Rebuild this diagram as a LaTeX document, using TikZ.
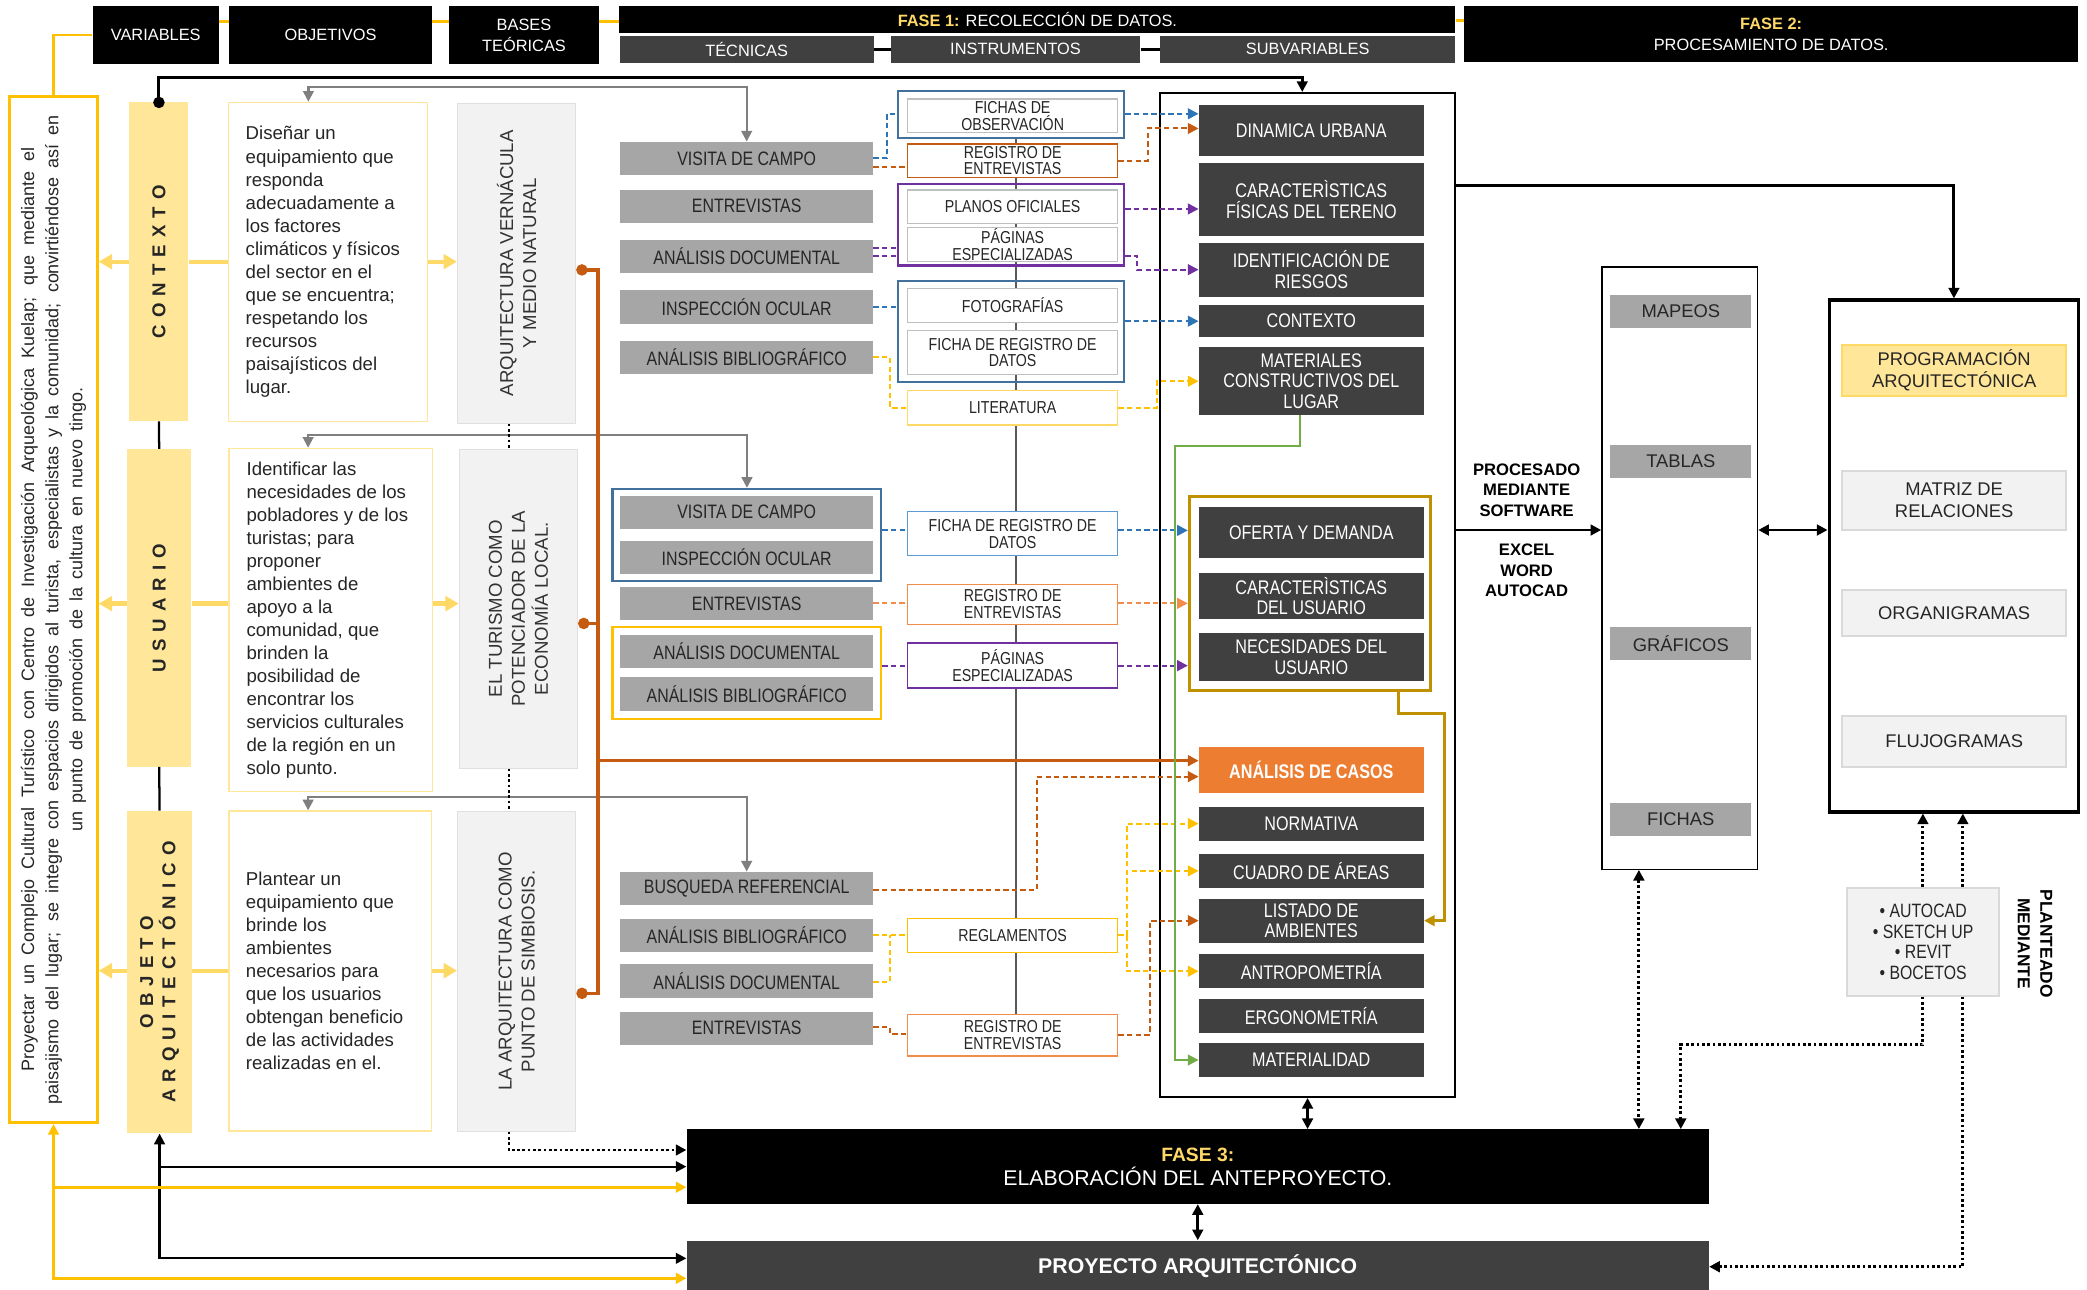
\documentclass[tikz,border=0pt]{standalone}
\usepackage{fontspec}
\setmainfont{Liberation Sans}
\newfontfamily\narrowfont{Liberation Sans}[FakeStretch=0.82]
\usetikzlibrary{arrows.meta,backgrounds}

\definecolor{hdark}{HTML}{404040}
\definecolor{tecgray}{HTML}{A6A6A6}
\definecolor{palegray}{HTML}{F2F2F2}
\definecolor{edgegray}{HTML}{D9D9D9}
\definecolor{varfill}{HTML}{FFE699}
\definecolor{varedge}{HTML}{FFD966}
\definecolor{gold}{HTML}{FFC000}
\definecolor{ochre}{HTML}{BF9000}
\definecolor{rust}{HTML}{C55A11}
\definecolor{peach}{HTML}{F28C4B}
\definecolor{casos}{HTML}{ED7D31}
\definecolor{steel}{HTML}{41719C}
\definecolor{skyblue}{HTML}{2E75B6}
\definecolor{lightblue}{HTML}{5B9BD5}
\definecolor{plum}{HTML}{7030A0}
\definecolor{leaf}{HTML}{70AD47}
\definecolor{midgray}{HTML}{7F7F7F}

\newcommand\fsz[2]{\fontsize{#1}{#2}\selectfont}
\newcommand\widespaces{\spaceskip=5.3pt\relax}

\tikzset{
  tri/.tip={Triangle[length=8pt,width=8pt]},
  bigtri/.tip={Triangle[length=10pt,width=11pt]},
  blob/.tip={Circle[length=8.5pt]},
  % boxes
  hdrbox/.style={fill=black,text=white,inner sep=0pt,align=center,font=\fsz{12.3}{15.8}},
  subhdr/.style={hdrbox,fill=hdark},
  genbox/.style={draw=gold,line width=2pt,fill=white,inner sep=0pt},
  gentxt/.style={rotate=90,align=center,inner sep=0pt,text=black!85,font=\fsz{13.5}{18.2}},
  varbox/.style={fill=varfill,inner sep=0pt},
  vlab/.style={rotate=90,align=center,inner sep=0pt,text=black!85,font=\bfseries\fsz{14}{16.8}\widespaces},
  objbox/.style={draw=varfill,line width=0.9pt,fill=white,inner sep=0pt},
  objtxt/.style={anchor=west,align=left,inner sep=0pt,text=black!85,font=\fsz{14}{17.3}},
  basebox/.style={draw=black!12,line width=0.7pt,fill=palegray,inner sep=0pt},
  basetxt/.style={rotate=90,align=center,inner sep=0pt,text=black!80,font=\fsz{14}{17.3}},
  tecbox/.style={fill=tecgray,text=black!85,inner sep=0pt,minimum width=190pt,minimum height=25pt,font=\narrowfont\fsz{14.6}{15}},
  insbox/.style={draw=#1,line width=1pt,fill=white,inner sep=0pt,minimum width=158pt,align=center,text=black!85,font=\narrowfont\fsz{13}{12.5}},
  insbox/.default={black!25},
  grpbox/.style={draw=#1,line width=1.6pt,inner sep=0pt,minimum width=170pt},
  subbox/.style={fill=hdark,text=white,inner sep=0pt,minimum width=169pt,align=center,font=\narrowfont\fsz{14.8}{15.5}},
  outbox/.style={fill=tecgray,text=black!85,inner sep=0pt,minimum width=106pt,minimum height=25pt,font=\fsz{13.8}{16}},
  progbox/.style={draw=edgegray,line width=1.5pt,fill=palegray,text=black!85,inner sep=0pt,minimum width=168pt,align=center,font=\fsz{13.8}{16.5}},
  swbox/.style={draw=edgegray,line width=1.5pt,fill=palegray,text=black!85,inner sep=0pt,align=center,font=\narrowfont\fsz{14.5}{15.5}},
  proclab/.style={align=center,inner sep=0pt,font=\bfseries\fsz{12.5}{15.4}},
  % lines
  blkline/.style={draw=black,line width=2.2pt},
  thinblk/.style={draw=black,line width=1.7pt},
  dashc/.style={draw=#1,line width=1.5pt,dash pattern=on 4pt off 2.5pt},
  dotline/.style={draw=black,line width=2.2pt,dash pattern=on 2pt off 2pt},
  grayline/.style={draw=midgray,line width=1.7pt},
  rustline/.style={draw=rust,line width=2.5pt},
  leafline/.style={draw=leaf,line width=1.4pt},
  ochreline/.style={draw=ochre,line width=2.4pt},
  goldline/.style={draw=gold,line width=2pt},
  varline/.style={draw=varedge,line width=3.2pt},
  instline/.style={draw=black!65,line width=1pt}
}

\begin{document}
\begin{tikzpicture}[x=1pt,y=-1pt]
\useasboundingbox (0,0) rectangle (1568,969);

% header row
\node[hdrbox,minimum width=95pt,minimum height=44pt] (hv) at (117,26.4) {VARIABLES};
\node[hdrbox,minimum width=152.5pt,minimum height=44pt] (ho) at (248.3,26.4) {OBJETIVOS};
\node[hdrbox,minimum width=113pt,minimum height=44pt] (hb) at (393.7,26.4) {BASES\\TEÓRICAS};
\node[hdrbox,minimum width=628pt,minimum height=20.5pt] (hf1) at (779.4,14.8) {\textbf{\color{varedge}FASE 1:} RECOLECCIÓN DE DATOS.};
\node[subhdr,minimum width=191pt,minimum height=20pt] (htec) at (561,37) {TÉCNICAS};
\node[subhdr,minimum width=187.4pt,minimum height=20pt] (hins) at (763,37) {INSTRUMENTOS};
\node[subhdr,minimum width=221.7pt,minimum height=20pt] (hsub) at (982.5,37) {SUBVARIABLES};
\node[hdrbox,minimum width=461.5pt,minimum height=42.3pt] (hf2) at (1330.7,25.7) {\textbf{\color{varedge}FASE 2:}\\PROCESAMIENTO DE DATOS.};

% general objective
\node[genbox,minimum width=66pt,minimum height=771pt] (gen) at (40.2,458) {};
\node[gentxt] (gent) at (gen) {\makebox[694pt][s]{Proyectar un Complejo Cultural Turístico con Centro de Investigación Arqueológica Kuelap; que mediante el}\\
  \makebox[743pt][s]{paisajismo del lugar; se integre con espacios dirigidos al turista, especialistas y la comunidad; convirtiéndose así en}\\
  \makebox[334pt][s]{un punto de promoción de la cultura en nuevo tingo.}};

% variables
\node[varbox,minimum width=44.3pt,minimum height=239.4pt] (vc) at (119.4,196.6) {};
\node[vlab] (vct) at (vc) {C O N T E X T O};
\node[varbox,minimum width=48.3pt,minimum height=238.6pt] (vu) at (119.6,456.7) {};
\node[vlab] (vut) at (vu) {U S U A R I O};
\node[varbox,minimum width=48.6pt,minimum height=242.2pt] (vo) at (119.9,730.4) {};
\node[vlab] (vot) at (vo) {O B J E T O\\A R Q U I T E C T Ó N I C O};

% objectives
\node[objbox,minimum width=149.5pt,minimum height=239.7pt] (o1) at (246.7,196.7) {};
\node[objtxt] (o1t) at ([xshift=12.9pt]o1.west) {Diseñar un\\equipamiento que\\responda\\adecuadamente a\\los factores\\climáticos y físicos\\del sector en el\\que se encuentra;\\respetando los\\recursos\\paisajísticos del\\lugar.};
\node[objbox,minimum width=153pt,minimum height=258pt] (o2) at (248.5,465.8) {};
\node[objtxt] (o2t) at ([xshift=13.5pt]o2.west) {Identificar las\\necesidades de los\\pobladores y de los\\turistas; para\\proponer\\ambientes de\\apoyo a la\\comunidad, que\\brinden la\\posibilidad de\\encontrar los\\servicios culturales\\de la región en un\\solo punto.};
\node[objbox,minimum width=152pt,minimum height=240.5pt] (o3) at (248,729.5) {};
\node[objtxt] (o3t) at ([xshift=13pt]o3.west) {Plantear un\\equipamiento que\\brinde los\\ambientes\\necesarios para\\que los usuarios\\obtengan beneficio\\de las actividades\\realizadas en el.};

% bases teoricas
\node[basebox,minimum width=89pt,minimum height=240.4pt] (b1) at (388.1,197.8) {};
\node[basetxt] (b1t) at (b1) {ARQUITECTURA VERNÁCULA\\Y MEDIO NATURAL};
\node[basebox,minimum width=89pt,minimum height=239.7pt] (b2) at (389.5,457.4) {};
\node[basetxt] (b2t) at (b2) {EL TURISMO COMO\\POTENCIADOR DE LA\\ECONOMÍA LOCAL.};
\node[basebox,minimum width=89pt,minimum height=240pt] (b3) at (388.2,729.8) {};
\node[basetxt] (b3t) at (b3) {LA ARQUITECTURA COMO\\PUNTO DE SIMBIOSIS.};

% tecnicas
\node[tecbox] (t1a) at (561,119) {VISITA DE CAMPO};
\node[tecbox] (t1b) at (561,155) {ENTREVISTAS};
\node[tecbox] (t1c) at (561,192.6) {ANÁLISIS DOCUMENTAL};
\node[tecbox] (t1d) at (561,230.6) {INSPECCIÓN OCULAR};
\node[tecbox] (t1e) at (561,268.5) {ANÁLISIS BIBLIOGRÁFICO};
\node[grpbox=steel,minimum width=202pt,minimum height=69pt] (gb2) at (561.2,401.8) {};
\node[tecbox] (t2a) at (561,384.8) {VISITA DE CAMPO};
\node[tecbox] (t2b) at (561,418.7) {INSPECCIÓN OCULAR};
\node[tecbox] (t2c) at (561,453.5) {ENTREVISTAS};
\node[grpbox=gold,minimum width=202pt,minimum height=69pt] (gy) at (561.2,505.8) {};
\node[tecbox] (t2d) at (561,489.4) {ANÁLISIS DOCUMENTAL};
\node[tecbox] (t2e) at (561,521.4) {ANÁLISIS BIBLIOGRÁFICO};
\node[tecbox] (t3a) at (561,667.5) {BUSQUEDA REFERENCIAL};
\node[tecbox] (t3b) at (561,702.8) {ANÁLISIS BIBLIOGRÁFICO};
\node[tecbox] (t3c) at (561,737) {ANÁLISIS DOCUMENTAL};
\node[tecbox] (t3d) at (561,772.5) {ENTREVISTAS};

% instrumentos
\node[grpbox=steel,minimum height=35pt] (gf) at (759.6,86) {};
\node[insbox,minimum height=25pt] (i1) at (760.8,87) {FICHAS DE\\OBSERVACIÓN};
\node[insbox=rust,minimum height=25pt] (r1) at (760.8,120.7) {REGISTRO DE\\ENTREVISTAS};
\node[grpbox=plum,minimum height=61pt] (gp) at (759.6,169) {};
\node[insbox,minimum height=25pt] (i2) at (760.8,155.3) {PLANOS OFICIALES};
\node[insbox,minimum height=25.6pt] (i3) at (760.8,183.8) {PÁGINAS\\ESPECIALIZADAS};
\node[grpbox=steel,minimum height=76pt] (gb) at (759.6,249) {};
\node[insbox,minimum height=25.8pt] (i4) at (760.8,229.5) {FOTOGRAFÍAS};
\node[insbox,minimum height=32.8pt] (i5) at (760.8,264.8) {FICHA DE REGISTRO DE\\DATOS};
\node[insbox=varedge,minimum height=25.8pt] (lit) at (760.8,306.4) {LITERATURA};
\node[insbox=lightblue,minimum height=33pt] (fr2) at (760.8,401) {FICHA DE REGISTRO DE\\DATOS};
\node[insbox=peach,minimum height=30pt] (r2) at (760.8,454) {REGISTRO DE\\ENTREVISTAS};
\node[insbox=plum,minimum height=34pt] (pa2) at (760.8,500) {PÁGINAS\\ESPECIALIZADAS};
\node[insbox=gold,minimum height=25.5pt] (reg) at (760.8,702.8) {REGLAMENTOS};
\node[insbox=peach,minimum height=31.4pt] (r3) at (760.8,777.7) {REGISTRO DE\\ENTREVISTAS};

% subvariables
\node[draw=black,line width=1.8pt,fill=white,minimum width=221.5pt,minimum height=754pt,inner sep=0pt] (sv) at (982.4,447) {};
\node[subbox,minimum height=38.3pt] (s1) at (985.2,98) {DINAMICA URBANA};
\node[subbox,minimum height=54.6pt] (s2) at (985.2,150) {CARACTERÌSTICAS\\FÍSICAS DEL TERENO};
\node[subbox,minimum height=40.6pt] (s3) at (985.2,202.6) {IDENTIFICACIÓN DE\\RIESGOS};
\node[subbox,minimum height=24.2pt] (s4) at (985.2,241.3) {CONTEXTO};
\node[subbox,minimum height=50.8pt] (s5) at (985.2,286.4) {MATERIALES\\CONSTRUCTIVOS DEL\\LUGAR};
\node[draw=ochre,line width=2.2pt,minimum width=181pt,minimum height=146pt,inner sep=0pt] (gg) at (984,445.8) {};
\node[subbox,minimum height=38.8pt] (s6) at (985.2,400) {OFERTA Y DEMANDA};
\node[subbox,minimum height=35pt] (s7) at (985.2,447.8) {CARACTERÌSTICAS\\DEL USUARIO};
\node[subbox,minimum height=35.6pt] (s8) at (985.2,493.6) {NECESIDADES DEL\\USUARIO};
\node[subbox,fill=casos,font=\narrowfont\bfseries\fsz{14.8}{15.5},minimum height=35pt] (scas) at (985.2,578.5) {ANÁLISIS DE CASOS};
\node[subbox,minimum height=25.6pt] (snorm) at (985.2,618.8) {NORMATIVA};
\node[subbox,minimum height=26pt] (scuad) at (985.2,654.3) {CUADRO DE ÁREAS};
\node[subbox,minimum height=33pt] (slist) at (985.2,691.7) {LISTADO DE\\AMBIENTES};
\node[subbox,minimum height=25.7pt] (santro) at (985.2,729.7) {ANTROPOMETRÍA};
\node[subbox,minimum height=25.7pt] (sergo) at (985.2,763.4) {ERGONOMETRÍA};
\node[subbox,minimum height=26pt] (smat) at (985.2,796.4) {MATERIALIDAD};

% fase 2 outputs
\node[draw=black,line width=1pt,fill=white,minimum width=117pt,minimum height=452.5pt,inner sep=0pt] (mb) at (1262,426.8) {};
\node[outbox] (m1) at (1262.8,233.8) {MAPEOS};
\node[outbox] (m2) at (1262.8,346.5) {TABLAS};
\node[outbox] (m3) at (1262.8,483.6) {GRÁFICOS};
\node[outbox] (m4) at (1262.8,615.6) {FICHAS};
\node[draw=black,line width=2.4pt,fill=white,minimum width=187.5pt,minimum height=384.6pt,inner sep=0pt] (rb) at (1468,417.7) {};
\node[progbox,fill=varfill,draw=varedge,minimum height=38pt] (p1) at (1468.2,278.4) {PROGRAMACIÓN\\ARQUITECTÓNICA};
\node[progbox,minimum height=44pt] (p2) at (1468.2,376.2) {MATRIZ DE\\RELACIONES};
\node[progbox,minimum height=34.5pt] (p3) at (1468.2,460.7) {ORGANIGRAMAS};
\node[progbox,minimum height=38.6pt] (p4) at (1468.2,557) {FLUJOGRAMAS};
\node[proclab] (proc) at (1147,368) {PROCESADO\\MEDIANTE\\SOFTWARE};
\node[proclab] (soft) at (1147,428.6) {EXCEL\\WORD\\AUTOCAD};
\node[swbox,minimum width=114pt,minimum height=81pt] (sw) at (1444.9,707.6) {• AUTOCAD\\• SKETCH UP\\• REVIT\\• BOCETOS};
\node[proclab,rotate=-90,font=\bfseries\fsz{13}{17}] (plan) at (1529,709) {PLANTEADO\\MEDIANTE};

% fase 3 and project
\node[hdrbox,minimum width=768pt,minimum height=56pt,font=\fsz{16}{18.3}] (f3) at (899.9,876.5) {{\bfseries\color{varedge}\fsz{14.5}{18.3}FASE 3:}\\ELABORACIÓN DEL ANTEPROYECTO.};
\node[hdrbox,fill=hdark,minimum width=768pt,minimum height=38pt,font=\bfseries\fsz{16}{19}] (pa) at (899.9,951) {PROYECTO ARQUITECTÓNICO};

\begin{pgfonlayer}{background}
  \fill[white] (0,0) rectangle (1568,969);
  \draw[instline] (gf.south -| 763.4,0) -- (r3.north -| 763.4,0);
\end{pgfonlayer}

% header links
\draw[goldline] (hv.east |- 0,16.3) -- (ho.west |- 0,16.3);
\draw[goldline] (ho.east |- 0,16.3) -- (hb.west |- 0,16.3);
\draw[goldline] (hb.east |- 0,16.3) -- (hf1.west |- 0,16.3);
\draw[goldline] (hf1.east |- 0,15.5) -- (hf2.west |- 0,15.5);
\draw[blkline] (htec.east) -- (hins.west);
\draw[blkline] (hins.east) -- (hsub.west);
\draw[goldline] (gen.north) |- (hv.west);

% variables column
\draw[blkline,blob-tri] ([yshift=-4.5pt]vc.north) -- (vc.north |- 0,58.1) -| ([xshift=-4pt]sv.north);
\draw[thinblk] (vc.south) -- (vu.north);
\draw[thinblk] (vu.south) -- (vo.north);
\draw[varline,-bigtri] (vc.west) -- (vc.west -| gen.east);
\draw[varline] (vc.east) -- (vc.east -| o1.west);
\draw[varline,-bigtri] (o1.east |- vc.east) -- (b1.west |- vc.east);
\draw[varline,-bigtri] (vu.west |- 0,453.5) -- (gen.east |- 0,453.5);
\draw[varline] (vu.east |- 0,453.5) -- (o2.west |- 0,453.5);
\draw[varline,-bigtri] (o2.east |- 0,453.5) -- (b2.west |- 0,453.5);
\draw[varline,-bigtri] (vo.west |- 0,729.3) -- (gen.east |- 0,729.3);
\draw[varline] (vo.east |- 0,729.3) -- (o3.west |- 0,729.3);
\draw[varline,-bigtri] (o3.east |- 0,729.3) -- (b3.west |- 0,729.3);

% gray links to techniques
\draw[grayline,tri-tri] ([xshift=-15pt]o1.north) |- (t1a.north |- 0,65.6) -- (t1a.north);
\draw[grayline,tri-tri] ([xshift=-17pt]o2.north) |- (gb2.north |- 0,326.8) -- (gb2.north);
\draw[grayline,tri-tri] ([xshift=-16.5pt]o3.north) |- (t3a.north |- 0,599) -- (t3a.north);

% dotted bases
\draw[dotline] (b1.south -| 382.4,0) -- (b2.north -| 382.4,0);
\draw[dotline] (b2.south -| 382.4,0) -- (b3.north -| 382.4,0);
\draw[dotline,-tri] (b3.south -| 382.4,0) |- (f3.west |- 0,864);

% bases to casos
\coordinate (oj) at (449.4,571.5);
\draw[rustline,blob-] ([yshift=-5pt]b1.east) -| (oj);
\draw[rustline,blob-] ([yshift=-11pt]b2.east) -| (oj);
\draw[rustline,blob-] ([yshift=-16.5pt]b3.east) -| (oj);
\draw[rustline,-tri] (oj) -- (oj -| scas.west);

% group 1 dashed links
\draw[dashc=skyblue] (t1a.east |- 0,119) -- ++(10,0) |- (gf.west);
\draw[dashc=rust] (t1a.east |- 0,125.7) -- (r1.west |- 0,125.7);
\draw[dashc=rust,-tri] (r1.east) -- ++(22,0) |- (s1.west |- 0,96.5);
\draw[dashc=skyblue,-tri] (gf.east |- 0,85.5) -- (s1.west |- 0,85.5);
\draw[dashc=plum] (t1c.east |- 0,186.6) -- (gp.west |- 0,186.6);
\draw[dashc=plum] (t1c.east |- 0,192.1) -- (gp.west |- 0,192.1);
\draw[dashc=plum,-tri] (gp.east |- 0,157) -- (s2.west |- 0,157);
\draw[dashc=plum,-tri] (gp.east |- 0,192) -- ++(9,0) |- (s3.west);
\draw[dashc=skyblue] (t1d.east |- 0,230.9) -- (gb.west |- 0,230.9);
\draw[dashc=skyblue,-tri] (gb.east |- s4.west) -- (s4.west);
\draw[dashc=gold] (t1e.east) -- ++(12.5,0) |- (lit.west);
\draw[dashc=gold,-tri] (lit.east) -- ++(29,0) |- (s5.west);

% group 2 dashed links
\draw[dashc=skyblue] (gb2.east |- 0,398.2) -- (fr2.west |- 0,398.2);
\draw[dashc=skyblue,-tri] (fr2.east |- 0,398.5) -- (gg.west |- 0,398.5);
\draw[dashc=peach] (t2c.east |- 0,453.3) -- (r2.west |- 0,453.3);
\draw[dashc=peach,-tri] (r2.east |- 0,453.3) -- (gg.west |- 0,453.3);
\draw[dashc=plum] (gy.east |- 0,500.1) -- (pa2.west |- 0,500.1);
\draw[dashc=plum,-tri] (pa2.east |- 0,500.1) -- (gg.west |- 0,500.1);

% group 3 dashed links
\draw[dashc=rust,-tri] (t3a.east |- 0,668.7) -- ++(122.6,0) |- (scas.west |- 0,583.5);
\draw[dashc=gold] (t3b.east |- 0,702.5) -- (reg.west |- 0,702.5);
\draw[dashc=gold] (t3c.east |- 0,737.5) -- ++(12.5,0) -- ++(0,-35);
\draw[dashc=rust] (t3d.east |- 0,771.9) -- ++(12.5,0) |- (r3.west |- 0,777.1);
\draw[dashc=rust,-tri] (r3.east |- 0,777.6) -- ++(23.5,0) |- (slist.west);
\coordinate (yf) at ([xshift=6.4pt]reg.east);
\draw[dashc=gold] (reg.east) -- (yf);
\draw[dashc=gold,-tri] (yf) |- (snorm.west);
\draw[dashc=gold,-tri] (yf) |- (scuad.west);
\draw[dashc=gold,-tri] (yf) |- (santro.west);

% inside subvariables
\draw[leafline,-tri] (s5.south -| 976.8,0) -- ++(0,23) -| ([xshift=-17.5pt]smat.west) -- (smat.west);
\draw[ochreline,-tri] ([xshift=-25pt]gg.south east) -- ++(0,16.3) -| ([xshift=15.5pt]slist.east) -- (slist.east);

% fase 2 links
\draw[blkline,-tri] (sv.east |- 0,139.7) -| (rb.north);
\draw[blkline,-tri] (sv.east |- 0,398.2) -- (mb.west |- 0,398.2);
\draw[blkline,tri-tri] (mb.east |- 0,398.2) -- (rb.west |- 0,398.2);
\draw[dotline,-tri] (sw.north -| 1444.7,0) -- (rb.south -| 1444.7,0);
\draw[dotline,-tri] (sw.north -| 1474.7,0) -- (rb.south -| 1474.7,0);
\draw[dotline,-tri] (sw.south -| 1444.7,0) -- ++(0,36) -| (f3.north -| 1262.8,0);
\draw[dotline,-tri] (sw.south -| 1474.7,0) |- (pa.east |- 0,951.7);
\draw[dotline,tri-tri] (mb.south -| 1231.3,0) -- (f3.north -| 1231.3,0);
\draw[blkline,tri-tri] (sv.south) -- (sv.south |- f3.north);
\draw[blkline,tri-tri] (f3.south) -- (pa.north);

% left bottom links
\draw[thinblk,tri-tri] (vo.south) |- (pa.west |- 0,945.4);
\draw[thinblk,-tri] (vo.south |- 0,876.5) -- (f3.west |- 0,876.5);
\draw[goldline,tri-tri] (gen.south) |- (pa.west |- 0,960.4);
\draw[goldline,-tri] (gen.south |- 0,892) -- (f3.west |- 0,892);

\end{tikzpicture}
\end{document}
